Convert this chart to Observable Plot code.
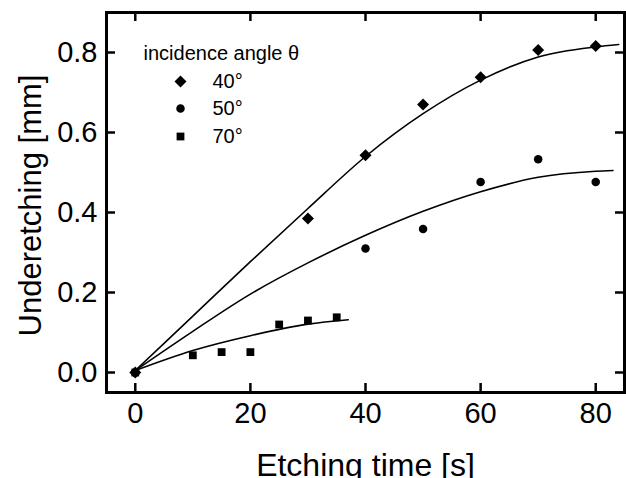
<!DOCTYPE html>
<html>
<head>
<meta charset="utf-8">
<script src="https://cdn.jsdelivr.net/npm/d3@7"></script>
<script src="https://cdn.jsdelivr.net/npm/@observablehq/plot@0.6"></script>
<style>
  html, body { margin: 0; padding: 0; background: #fff; }
  #chart { width: 626px; height: 478px; overflow: hidden; }
</style>
</head>
<body>
<div id="chart"></div>
<script>
// ---- data ----
const time40 = [0, 30, 40, 50, 60, 70, 80];
const under40 = [0.0, 0.385, 0.543, 0.670, 0.738, 0.806, 0.816];
const time50 = [0, 40, 50, 60, 70, 80];
const under50 = [0.0, 0.310, 0.359, 0.476, 0.533, 0.476];
const time70 = [0, 10, 15, 20, 25, 30, 35];
const under70 = [0.0, 0.043, 0.051, 0.051, 0.120, 0.130, 0.138];

// fitted curves (read at sample positions)
const fitTime40 = [0, 10, 20, 30, 40, 50, 60, 70, 80, 84];
const fitUnder40 = [0.005, 0.141, 0.277, 0.410, 0.540, 0.647, 0.731, 0.789, 0.814, 0.820];
const fitTime50 = [0, 10, 20, 30, 40, 50, 60, 70, 80, 83];
const fitUnder50 = [0.005, 0.103, 0.196, 0.274, 0.343, 0.403, 0.452, 0.488, 0.503, 0.505];
const fitTime70 = [0, 10, 20, 30, 37];
const fitUnder70 = [0.005, 0.055, 0.092, 0.121, 0.132];

const xTicks = [0, 20, 40, 60, 80];
const yTicks = [0.0, 0.2, 0.4, 0.6, 0.8];
const legendTitle = "incidence angle θ";
const legendLabels = ["40°", "50°", "70°"];
const legendSymbols = ["diamond2", "circle", "square"];

const toRows = (xs, ys) => xs.map((x, i) => ({x, y: ys[i]}));
const pts40 = toRows(time40, under40);
const pts50 = toRows(time50, under50);
const pts70 = toRows(time70, under70);
const fit40 = toRows(fitTime40, fitUnder40);
const fit50 = toRows(fitTime50, fitUnder50);
const fit70 = toRows(fitTime70, fitUnder70);

const W = 626, H = 478;
const mL = 106, mR = 2, mT = 12, mB = 86;
const plotW = W - mL - mR, plotH = H - mT - mB;
const tickLen = 9;
const symR = {diamond2: 5.4, circle: 4.25, square: 4.4};

const legendMarks = [];
legendMarks.push(Plot.text([legendTitle], {
  frameAnchor: "top-left", dx: 143 - mL, dy: 53 - mT,
  text: d => d, textAnchor: "start", lineAnchor: "middle", fontSize: 20, fill: "black"
}));
legendLabels.forEach((lab, i) => {
  const cy = [81, 108, 136][i];
  legendMarks.push(Plot.dot([lab], {
    frameAnchor: "top-left", dx: 180 - mL, dy: cy - mT,
    symbol: legendSymbols[i], r: symR[legendSymbols[i]], fill: "black", stroke: "none"
  }));
  legendMarks.push(Plot.text([lab], {
    frameAnchor: "top-left", dx: 212 - mL, dy: cy - mT,
    text: d => d, textAnchor: "start", lineAnchor: "middle", fontSize: 20, fill: "black"
  }));
});

const chart = Plot.plot({
  width: W, height: H,
  marginLeft: mL, marginRight: mR, marginTop: mT, marginBottom: mB,
  style: {fontFamily: "'Liberation Sans', Arial, Helvetica, sans-serif", background: "white", color: "black"},
  x: {domain: [-5, 85], axis: null},
  y: {domain: [-0.05, 0.9], axis: null},
  marks: [
    // fitted curves
    Plot.line(fit40, {x: "x", y: "y", curve: "monotone-x", stroke: "black", strokeWidth: 1.6}),
    Plot.line(fit50, {x: "x", y: "y", curve: "monotone-x", stroke: "black", strokeWidth: 1.6}),
    Plot.line(fit70, {x: "x", y: "y", curve: "monotone-x", stroke: "black", strokeWidth: 1.6}),
    // data points
    Plot.dot(pts40, {x: "x", y: "y", symbol: "diamond2", r: symR.diamond2, fill: "black", stroke: "none"}),
    Plot.dot(pts50, {x: "x", y: "y", symbol: "circle", r: symR.circle, fill: "black", stroke: "none"}),
    Plot.dot(pts70, {x: "x", y: "y", symbol: "square", r: symR.square, fill: "black", stroke: "none"}),
    // inward ticks on all four sides
    Plot.tickX(xTicks, {x: d => d, insetTop: plotH - tickLen, stroke: "black", strokeWidth: 2.5}),
    Plot.tickX(xTicks, {x: d => d, insetBottom: plotH - tickLen, stroke: "black", strokeWidth: 2.5}),
    Plot.tickY(yTicks, {y: d => d, insetRight: plotW - tickLen, stroke: "black", strokeWidth: 2.5}),
    Plot.tickY(yTicks, {y: d => d, insetLeft: plotW - tickLen, stroke: "black", strokeWidth: 2.5}),
    // tick labels
    Plot.axisX({ticks: xTicks, tickSize: 0, tickPadding: 10, fontSize: 29, tickFormat: d => String(d), label: null}),
    Plot.axisY({ticks: yTicks, tickSize: 0, tickPadding: 9, fontSize: 29, tickFormat: d3.format(".1f"), label: null}),
    // axis titles
    Plot.text(["Etching time [s]"], {frameAnchor: "bottom", dy: 83, text: d => d, textAnchor: "middle", lineAnchor: "bottom", fontSize: 32, fill: "black"}),
    Plot.text(["Underetching [mm]"], {frameAnchor: "left", dx: 40 - mL, dy: 3, rotate: -90, text: d => d, textAnchor: "middle", lineAnchor: "bottom", fontSize: 31, fill: "black"}),
    ...legendMarks,
    Plot.frame({stroke: "black", strokeWidth: 3})
  ]
});
document.getElementById("chart").appendChild(chart);
</script>
</body>
</html>
